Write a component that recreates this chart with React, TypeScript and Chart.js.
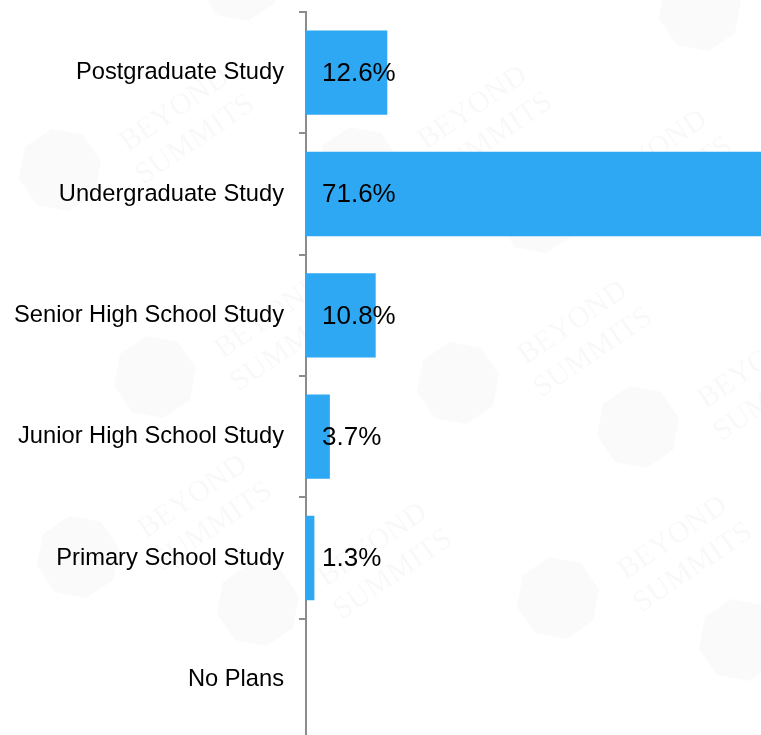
import React, { useEffect, useRef } from "react";
import { Chart, registerables } from "chart.js";

Chart.register(...registerables);

// ---- data ----
const categories: string[] = [
  "Postgraduate Study",
  "Undergraduate Study",
  "Senior High School Study",
  "Junior High School Study",
  "Primary School Study",
  "No Plans",
];
const shares: (number | null)[] = [12.6, 71.6, 10.8, 3.7, 1.3, null];
const axisMax = 71.6;
const watermarkLines: string[] = ["BEYOND", "SUMMITS"];

// ---- decoration (watermark spots, purely stylistic) ----
const WATERMARK_SPOTS: [number, number][] = [
  [60, 170],
  [358, 168],
  [538, 212],
  [155, 377],
  [458, 383],
  [638, 427],
  [78, 557],
  [258, 605],
  [558, 598],
  [740, 640],
  [240, -20],
  [700, 10],
];

const BAR_COLOR = "#2FA8F4";
const AXIS_COLOR = "#8C8C8C";
const FONT = "'Liberation Sans', Arial, Helvetica, sans-serif";

const watermarkPlugin = {
  id: "watermark",
  beforeDraw(chart: any) {
    const ctx = chart.ctx as CanvasRenderingContext2D;
    ctx.save();
    ctx.fillStyle = "#ffffff";
    ctx.fillRect(0, 0, chart.width, chart.height);
    for (const [cx, cy] of WATERMARK_SPOTS) {
      ctx.save();
      ctx.translate(cx, cy);
      ctx.rotate(-0.6);
      ctx.fillStyle = "rgba(0,0,0,0.018)";
      ctx.beginPath();
      const r = 42;
      for (let k = 0; k < 8; k++) {
        const a = (Math.PI / 4) * k + Math.PI / 8;
        const px = Math.cos(a) * r;
        const py = Math.sin(a) * r;
        if (k === 0) ctx.moveTo(px, py);
        else ctx.lineTo(px, py);
      }
      ctx.closePath();
      ctx.fill();
      ctx.restore();
      ctx.save();
      ctx.translate(cx + 125, cy - 45);
      ctx.rotate(-0.6);
      ctx.fillStyle = "rgba(0,0,0,0.028)";
      ctx.font = "30px 'Liberation Serif', 'DejaVu Serif', serif";
      ctx.textAlign = "center";
      ctx.textBaseline = "middle";
      ctx.fillText(watermarkLines[0], 0, -18);
      ctx.fillText(watermarkLines[1], 0, 18);
      ctx.restore();
    }
    ctx.restore();
  },
};

const valueLabelPlugin = {
  id: "valueLabels",
  afterDatasetsDraw(chart: any) {
    const ctx = chart.ctx as CanvasRenderingContext2D;
    const meta = chart.getDatasetMeta(0);
    const xScale = chart.scales.x;
    const x0 = xScale.getPixelForValue(0);
    ctx.save();
    ctx.font = `26px ${FONT}`;
    ctx.fillStyle = "#000000";
    ctx.textAlign = "left";
    ctx.textBaseline = "middle";
    meta.data.forEach((bar: any, i: number) => {
      const v = shares[i];
      if (v === null || v === undefined) return;
      ctx.fillText(`${v.toFixed(1)}%`, x0 + 16, bar.y + 1);
    });
    ctx.restore();
  },
};

export default function App() {
  const canvasRef = useRef<HTMLCanvasElement | null>(null);

  useEffect(() => {
    document.body.style.margin = "0";
    const canvas = canvasRef.current;
    if (!canvas) return;
    const chart = new Chart(canvas, {
      type: "bar",
      data: {
        labels: categories,
        datasets: [
          {
            data: shares,
            backgroundColor: BAR_COLOR,
            borderWidth: 0,
            categoryPercentage: 1,
            barPercentage: 0.695,
          },
        ],
      },
      options: {
        indexAxis: "y",
        animation: false,
        responsive: false,
        maintainAspectRatio: false,
        devicePixelRatio: 1,
        layout: { padding: { top: 12, left: 0, right: 0, bottom: 0 } },
        plugins: {
          legend: { display: false },
          tooltip: { enabled: false },
        },
        scales: {
          x: {
            display: false,
            min: 0,
            max: axisMax,
          },
          y: {
            type: "category",
            offset: true,
            z: 1,
            afterFit: (scale: any) => {
              scale.width = 306;
              scale.paddingTop = 0;
              scale.paddingBottom = 0;
            },
            grid: {
              display: true,
              drawOnChartArea: false,
              drawTicks: true,
              tickLength: 7,
              color: AXIS_COLOR,
              lineWidth: 2,
              offset: true,
            },
            border: { display: true, color: AXIS_COLOR, width: 2 },
            ticks: {
              padding: 15,
              color: "#000000",
              font: { family: FONT, size: 23.7 },
              autoSkip: false,
            },
          },
        },
      },
      plugins: [watermarkPlugin, valueLabelPlugin],
    } as any);
    return () => chart.destroy();
  }, []);

  return (
    <div
      style={{
        position: "fixed",
        left: 0,
        top: 0,
        width: 761,
        height: 735,
        overflow: "hidden",
        background: "#ffffff",
      }}
    >
      <canvas ref={canvasRef} width={768} height={740} style={{ display: "block" }} />
    </div>
  );
}
